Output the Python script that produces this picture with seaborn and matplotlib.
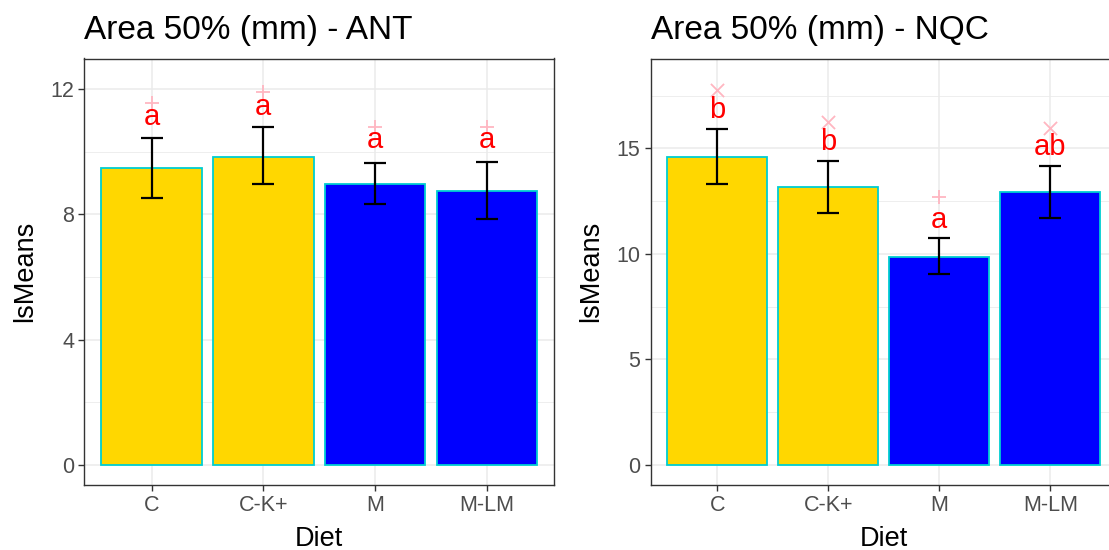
import matplotlib
matplotlib.use("Agg")
import numpy as np
import pandas as pd
import seaborn as sns
import matplotlib.pyplot as plt
from matplotlib.ticker import MultipleLocator

diets = ["C", "C-K+", "M", "M-LM"]
bar_colors = ["#FFD700", "#FFD700", "#0000FF", "#0000FF"]

ant_mean = [9.47, 9.84, 8.97, 8.76]
ant_lower = [8.53, 8.96, 8.34, 7.84]
ant_upper = [10.43, 10.78, 9.65, 9.67]
ant_mark = [11.57, 11.90, 10.79, 10.79]
ant_shape = ["+", "+", "+", "+"]
ant_letters = ["a", "a", "a", "a"]
ant_letter_y = [11.12, 11.44, 10.38, 10.38]

nqc_mean = [14.60, 13.15, 9.87, 12.92]
nqc_lower = [13.33, 11.94, 9.06, 11.71]
nqc_upper = [15.92, 14.42, 10.74, 14.15]
nqc_mark = [17.76, 16.23, 12.71, 15.98]
nqc_shape = ["x", "x", "+", "x"]
nqc_letters = ["b", "b", "a", "ab"]
nqc_letter_y = [16.82, 15.31, 11.60, 15.05]

sns.set_theme(style="white")
plt.rcParams["font.family"] = ["Liberation Sans", "DejaVu Sans"]

W, H = 1109, 550
fig = plt.figure(figsize=(W / 100, H / 100), dpi=100)


def panel(rect, title, mean, lower, upper, mark, shape, letters, letter_y,
          ylim, major, minor):
    ax = fig.add_axes(rect)
    df = pd.DataFrame({"Diet": diets, "lsMeans": mean})
    sns.barplot(data=df, x="Diet", y="lsMeans", hue="Diet", order=diets,
                palette=dict(zip(diets, bar_colors)), width=0.9,
                saturation=1, edgecolor="#00CED1", linewidth=1.3,
                legend=False, ax=ax, zorder=2)
    xs = np.arange(len(diets))
    m = np.array(mean)
    ax.errorbar(xs, m, yerr=[m - np.array(lower), np.array(upper) - m],
                fmt="none", ecolor="black", elinewidth=1.6, capsize=8,
                capthick=1.6, zorder=3)
    for x, y, s in zip(xs, mark, shape):
        ax.scatter(x, y, marker=s, s=90, color="#FFB6C1", linewidths=1.3,
                   zorder=4)
    for x, y, t in zip(xs, letter_y, letters):
        ax.text(x, y, t, color="red", fontsize=21, ha="center", va="center",
                zorder=5)

    ax.set_xlim(-0.6, len(diets) - 0.4)
    ax.set_ylim(*ylim)
    ax.yaxis.set_major_locator(MultipleLocator(major))
    ax.yaxis.set_minor_locator(MultipleLocator(minor))
    ax.grid(True, which="major", color="#EBEBEB", linewidth=1.1, zorder=0)
    ax.grid(True, which="minor", axis="y", color="#EBEBEB", linewidth=0.6,
            zorder=0)
    ax.set_axisbelow(True)
    for sp in ax.spines.values():
        sp.set_color("#333333")
        sp.set_linewidth(1.0)
    ax.tick_params(which="major", length=4.5, width=1.0, color="#333333",
                   labelsize=15.5, labelcolor="#4D4D4D", pad=3,
                   left=True, bottom=True)
    ax.tick_params(which="minor", length=0)
    ax.set_xlabel("Diet", fontsize=19.5, color="black", labelpad=7)
    ax.set_ylabel("lsMeans", fontsize=19.5, color="black", labelpad=9)
    ax.set_title(title, loc="left", fontsize=24, color="black", pad=14)
    return ax


bottom = (H - 485) / H
height = (485 - 58.5) / H

panel([84.5 / W, bottom, (554 - 84.5) / W, height], "Area 50% (mm) - ANT",
      ant_mean, ant_lower, ant_upper, ant_mark, ant_shape, ant_letters,
      ant_letter_y, (-0.639, 12.98), 4, 2)
panel([650.7 / W, bottom, (1117 - 650.7) / W, height], "Area 50% (mm) - NQC",
      nqc_mean, nqc_lower, nqc_upper, nqc_mark, nqc_shape, nqc_letters,
      nqc_letter_y, (-0.947, 19.26), 5, 2.5)

fig.savefig("out.png", dpi=100)
